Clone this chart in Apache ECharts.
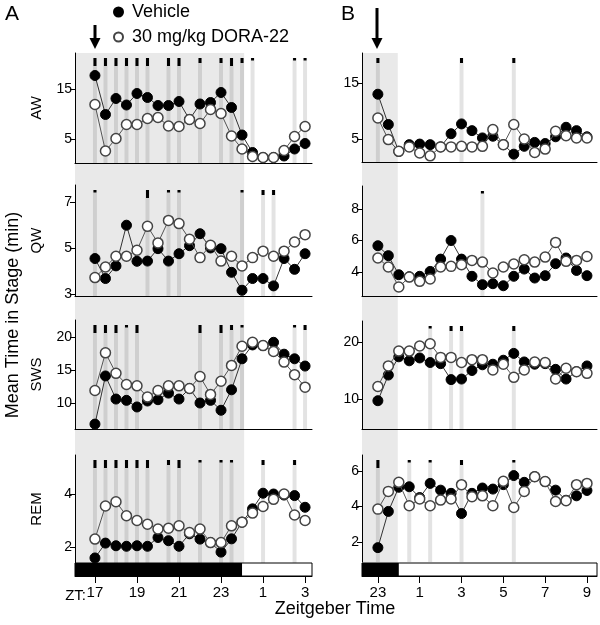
<!DOCTYPE html>
<html><head><meta charset="utf-8">
<script src="https://cdn.jsdelivr.net/npm/echarts@6/dist/echarts.min.js"></script>
<style>html,body{margin:0;padding:0;background:#fff}#c{width:600px;height:625px}</style>
</head><body><div id="c"></div>
<script>
// ---------- data ----------
const timesA = [17,17.5,18,18.5,19,19.5,20,20.5,21,21.5,22,22.5,23,23.5,24,24.5,25,25.5,26,26.5,27];
const timesB = [23,23.5,24,24.5,25,25.5,26,26.5,27,27.5,28,28.5,29,29.5,30,30.5,31,31.5,32,32.5,33];

const awVehA  = [17.7,9.9,13.1,11.8,14.1,13.3,11.7,11.7,12.5,8.9,12.0,12.3,14.3,11.3,5.8,2.3,1.3,1.3,1.6,3.0,4.1];
const awDoraA = [11.9,2.6,5.1,7.9,7.9,9.1,9.3,7.6,7.5,8.9,8.1,10.9,10.1,5.6,3.0,1.5,1.3,1.3,2.7,5.5,7.5];
const qwVehA  = [4.54,3.67,4.22,5.99,4.42,4.43,4.97,4.43,4.75,5.1,5.62,5.0,4.97,3.94,3.16,3.67,3.67,3.35,4.54,4.07,4.75];
const qwDoraA = [3.71,4.17,4.64,4.64,4.9,5.94,5.22,6.2,6.06,5.38,4.58,5.12,4.43,4.64,4.22,4.58,4.86,4.64,4.86,5.26,5.58];
const swsVehA  = [6.8,14.1,10.6,10.4,9.4,10.3,10.5,11.5,10.6,12.2,10.0,10.4,8.9,12.0,16.7,18.8,18.7,19.2,17.4,16.7,15.6];
const swsDoraA = [11.9,17.6,14.5,12.8,12.6,10.9,11.9,12.6,12.6,12.2,14.0,11.3,13.3,15.7,18.6,19.2,18.7,17.8,16.2,14.3,12.4];
const remVehA  = [1.59,2.15,2.05,2.03,2.05,2.03,2.36,2.24,2.03,2.5,2.3,2.17,1.81,2.31,2.94,3.44,4.03,4.0,3.96,3.94,3.5];
const remDoraA = [2.3,3.55,3.71,3.18,3.0,2.86,2.68,2.71,2.8,2.55,2.68,2.17,2.17,2.8,2.94,3.28,3.53,3.8,4.0,3.21,3.0];

const awVehB  = [13.0,7.6,2.8,4.0,4.1,4.0,3.6,5.95,7.7,6.5,5.2,5.5,4.0,2.3,3.7,4.4,4.2,5.4,7.1,6.5,5.4];
const awDoraB = [8.75,4.9,2.8,3.6,2.5,2.0,3.6,3.6,3.7,3.6,3.7,6.7,4.0,7.6,5.0,2.6,3.2,6.4,5.6,5.2,5.2];
const qwVehB  = [5.67,5.04,3.83,3.7,3.73,4.04,4.82,6.0,4.82,3.73,3.2,3.26,3.13,3.73,4.19,3.62,3.77,4.53,4.89,4.1,3.77];
const qwDoraB = [4.89,4.32,3.05,3.68,3.41,3.56,4.32,4.36,4.47,4.74,4.63,3.94,4.32,4.51,4.78,4.63,4.95,5.88,4.68,4.74,4.99];
const swsVehB  = [9.7,14.2,17.4,16.7,17.2,16.4,16.2,13.4,13.5,15.0,16.0,16.1,16.8,18.0,16.5,16.1,16.2,15.2,13.5,14.8,15.8];
const swsDoraB = [12.2,15.8,18.4,18.4,19.3,19.7,17.3,17.3,16.4,16.9,16.9,15.1,16.1,13.8,15.1,16.5,16.4,13.5,15.4,14.8,14.5];
const remVehB  = [1.68,3.72,5.08,5.11,4.5,5.3,4.92,4.74,3.6,4.74,5.04,4.98,5.23,5.74,5.36,5.68,5.4,4.92,4.35,4.6,4.9];
const remDoraB = [3.85,4.85,5.36,4.04,4.42,4.04,4.36,4.42,5.23,4.55,4.6,4.04,5.42,3.94,4.85,5.68,5.4,4.28,4.32,5.23,5.3];

// significance markers: [time, level]  (level 3 = largest marker)
const sigAwA  = [[17,3],[17.5,3],[18,3],[18.5,3],[19,3],[19.5,3],[20.5,3],[21,3],[22,2],[23,2],[23.5,3],[24,2],[24.5,1],[26.5,1],[27,1]];
const sigQwA  = [[17,1],[19.5,3],[20.5,1],[21,1],[24,1],[25,2],[25.5,2]];
const sigSwsA = [[17,3],[17.5,3],[18,3],[18.5,1],[19,3],[22,3],[23,3],[23.5,2],[24,1],[26.5,1],[27,2]];
const sigRemA = [[17,3],[17.5,3],[18,3],[18.5,3],[19,3],[19.5,3],[20.5,2],[21,3],[22,1],[23,1],[23.5,1],[25,2],[26.5,2]];
const sigAwB  = [[23,2],[27,2],[29.5,2]];
const sigQwB  = [[28,1]];
const sigSwsB = [[25.5,1],[26.5,2],[27,2],[29.5,2]];
const sigRemB = [[23,3],[24.5,1],[25.5,1],[27,2],[29.5,1]];

// tick labels
const awTicksA = [5,15], qwTicksA = [3,5,7], swsTicksA = [10,15,20], remTicksA = [2,4];
const awTicksB = [5,15], qwTicksB = [4,6,8], swsTicksB = [10,20], remTicksB = [2,4,6];
const xTicksA = [17,19,21,23,25,27];
const xTicksB = [23,25,27,29,31,33];

// shaded (dark/treatment) window and lights-on time
const shadeA = [16, 24.1];
const shadeB = [22, 23.95];
const lightsOn = 24;

const stageNames = ['AW','QW','SWS','REM'];
const seriesNames = ['Vehicle','30 mg/kg DORA-22'];

// ---------- layout ----------
const FONT = 'Liberation Sans, Arial, sans-serif';
const colA = {left:75, width:237, x:[16.05, 27.33]};
const colB = {left:362, width:235, x:[22.24, 33.48]};
const panels = [
  {col:colA, top:53,  h:110, y:[0.2,22.2],  ticks:awTicksA,  veh:awVehA,  dora:awDoraA,  sig:sigAwA,  t:timesA, name:stageNames[0]},
  {col:colA, top:185, h:111, y:[2.91,7.74], ticks:qwTicksA,  veh:qwVehA,  dora:qwDoraA,  sig:sigQwA,  t:timesA, name:stageNames[1]},
  {col:colA, top:320, h:109, y:[6.06,22.58],ticks:swsTicksA, veh:swsVehA, dora:swsDoraA, sig:sigSwsA, t:timesA, name:stageNames[2]},
  {col:colA, top:455, h:108, y:[1.4,5.47],  ticks:remTicksA, veh:remVehA, dora:remDoraA, sig:sigRemA, t:timesA, name:stageNames[3], last:true},
  {col:colB, top:53,  h:109, y:[0.9,20.36], ticks:awTicksB,  veh:awVehB,  dora:awDoraB,  sig:sigAwB,  t:timesB, name:''},
  {col:colB, top:186, h:110, y:[2.48,9.46], ticks:qwTicksB,  veh:qwVehB,  dora:qwDoraB,  sig:sigQwB,  t:timesB, name:''},
  {col:colB, top:321, h:108, y:[4.74,23.68],ticks:swsTicksB, veh:swsVehB, dora:swsDoraB, sig:sigSwsB, t:timesB, name:''},
  {col:colB, top:455, h:107, y:[0.87,6.9],  ticks:remTicksB, veh:remVehB, dora:remDoraB, sig:sigRemB, t:timesB, name:'', last:true}
];

const grids = [], xAxes = [], yAxes = [], series = [];

function sigRender(params, api) {
  const cs = params.coordSys;
  const x = api.coord([api.value(0), api.value(1)])[0];
  const lvl = api.value(1);
  const h = lvl === 3 ? 8 : (lvl === 2 ? 5 : 2.5);
  const top = cs.y + 5;
  return {type:'group', children:[
    {type:'rect', shape:{x:x-2, y:top, width:4, height:cs.y + cs.height - top}, style:{fill:'rgba(0,0,0,0.11)'}},
    {type:'rect', shape:{x:x-1.5, y:top, width:3, height:h}, style:{fill:'#000'}}
  ]};
}
function shadeRender(params, api) {
  const cs = params.coordSys;
  const x0 = Math.max(cs.x, api.coord([api.value(0), 0])[0]);
  const x1 = Math.min(cs.x + cs.width, api.coord([api.value(1), 0])[0]);
  return {type:'rect', shape:{x:x0, y:cs.y, width:x1 - x0, height:cs.height}, style:{fill:'#e9e9e9'}};
}
function ldRender(params, api) {
  const cs = params.coordSys;
  const x1 = api.coord([api.value(0), 0])[0];
  return {type:'group', children:[
    {type:'rect', shape:{x:cs.x, y:cs.y, width:x1 - cs.x, height:cs.height}, style:{fill:'#000'}},
    {type:'rect', shape:{x:cs.x, y:cs.y, width:cs.width, height:cs.height}, style:{fill:'none', stroke:'#000', lineWidth:1}}
  ]};
}

// background shading grids
[[colA, shadeA], [colB, shadeB]].forEach(([col, sh]) => {
  const gi = grids.length;
  grids.push({left:col.left, top:53, width:col.width, height:510});
  xAxes.push({gridIndex:gi, type:'value', min:col.x[0], max:col.x[1], show:false});
  yAxes.push({gridIndex:gi, type:'value', min:0, max:1, show:false});
  series.push({type:'custom', xAxisIndex:gi, yAxisIndex:gi, silent:true, z:0, renderItem:shadeRender, data:[sh]});
});

panels.forEach(p => {
  const gi = grids.length;
  grids.push({left:p.col.left, top:p.top, width:p.col.width, height:p.h});
  xAxes.push({gridIndex:gi, type:'value', min:p.col.x[0], max:p.col.x[1],
    axisLine:{show:!p.last, onZero:false, lineStyle:{color:'#000', width:1}},
    axisTick:{show:false}, axisLabel:{show:false}, splitLine:{show:false}});
  yAxes.push({gridIndex:gi, type:'value', min:p.y[0], max:p.y[1],
    axisLine:{show:true, onZero:false, lineStyle:{color:'#000', width:1}},
    axisTick:{show:true, length:5, customValues:p.ticks, lineStyle:{color:'#000'}},
    axisLabel:{customValues:p.ticks, fontSize:14, color:'#000', fontFamily:FONT, margin:3},
    splitLine:{show:false},
    name:p.name, nameLocation:'middle', nameGap:31,
    nameTextStyle:{fontSize:15, color:'#000', fontFamily:FONT}});
  series.push({type:'custom', xAxisIndex:gi, yAxisIndex:gi, silent:true, z:1, renderItem:sigRender, data:p.sig});
  series.push({type:'line', name:seriesNames[0], xAxisIndex:gi, yAxisIndex:gi, z:3,
    data:p.t.map((t,k)=>[t, p.veh[k]]), symbol:'circle', symbolSize:10, silent:true,
    lineStyle:{color:'#333', width:1}, itemStyle:{color:'#000', borderColor:'#000', borderWidth:1}});
  series.push({type:'line', name:seriesNames[1], xAxisIndex:gi, yAxisIndex:gi, z:4,
    data:p.t.map((t,k)=>[t, p.dora[k]]), symbol:'circle', symbolSize:10, silent:true,
    lineStyle:{color:'#555', width:1}, itemStyle:{color:'#fff', borderColor:'#444', borderWidth:1.5}});
});

// light/dark bars with time axis
[[colA, xTicksA], [colB, xTicksB]].forEach(([col, ticks]) => {
  const gi = grids.length;
  grids.push({left:col.left, top:563, width:col.width, height:13});
  xAxes.push({gridIndex:gi, type:'value', min:col.x[0], max:col.x[1],
    axisLine:{show:true, onZero:false, lineStyle:{color:'#000', width:1}},
    axisTick:{show:true, length:7, customValues:ticks, lineStyle:{color:'#000'}},
    axisLabel:{customValues:ticks, fontSize:15, color:'#000', fontFamily:FONT, margin:9,
      formatter:v => String(v % 24)},
    splitLine:{show:false}});
  yAxes.push({gridIndex:gi, type:'value', min:0, max:1, show:false});
  series.push({type:'custom', xAxisIndex:gi, yAxisIndex:gi, silent:true, z:2, renderItem:ldRender, data:[[lightsOn, 0]]});
});

const chart = echarts.init(document.getElementById('c'), null, {renderer:'canvas'});
chart.setOption({
  animation:false,
  textStyle:{fontFamily:FONT},
  grid:grids, xAxis:xAxes, yAxis:yAxes, series:series,
  legend:{left:113, top:3, orient:'vertical', itemWidth:9, itemHeight:9, itemGap:7, padding:0,
    selectedMode:false, textStyle:{fontSize:18, color:'#000', fontFamily:FONT, padding:[0,0,0,4]},
    data:[{name:seriesNames[0], icon:'circle'}, {name:seriesNames[1], icon:'circle'}]},
  graphic:[
    {type:'text', left:5, top:4, style:{text:'A', fontSize:21, fill:'#000', fontFamily:FONT}},
    {type:'text', left:341, top:4, style:{text:'B', fontSize:21, fill:'#000', fontFamily:FONT}},
    {type:'text', x:86, y:596, style:{text:'ZT:', fontSize:15, fill:'#000', fontFamily:FONT, align:'right', verticalAlign:'middle'}},
    {type:'text', x:335, y:609, style:{text:'Zeitgeber Time', fontSize:18, fill:'#000', fontFamily:FONT, align:'center', verticalAlign:'middle'}},
    {type:'text', x:13, y:315, rotation:Math.PI/2, style:{text:'Mean Time in Stage (min)', fontSize:18, fill:'#000', fontFamily:FONT, align:'center', verticalAlign:'middle'}},
    {type:'group', children:[
      {type:'rect', shape:{x:93.5, y:25, width:3, height:15}, style:{fill:'#000'}},
      {type:'polygon', shape:{points:[[89.5,38],[100.5,38],[95,49]]}, style:{fill:'#000'}},
      {type:'rect', shape:{x:375.5, y:8, width:3, height:32}, style:{fill:'#000'}},
      {type:'polygon', shape:{points:[[371.5,38],[382.5,38],[377,49]]}, style:{fill:'#000'}}
    ]}
  ]
});
</script></body></html>
